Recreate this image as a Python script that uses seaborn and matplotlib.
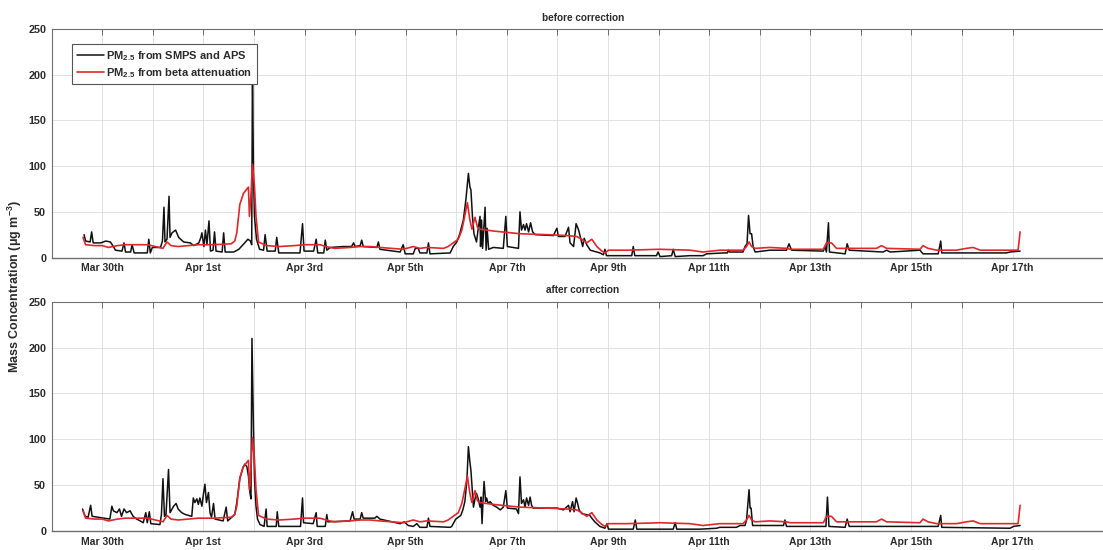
import matplotlib
matplotlib.use("Agg")
import matplotlib.pyplot as plt
import seaborn as sns
import pandas as pd
import numpy as np

# ---------------- data (time in days since Mar 29 00:00) ----------------
tick_days = list(range(1, 20))
tick_labels = ["Mar 30th", "", "Apr 1st", "", "Apr 3rd", "", "Apr 5th", "", "Apr 7th", "",
               "Apr 9th", "", "Apr 11th", "", "Apr 13th", "", "Apr 15th", "", "Apr 17th"]
yticks = [0, 50, 100, 150, 200, 250]

# PM2.5 from SMPS and APS, before correction
before_t = [0.64, 0.67, 0.76, 0.79, 0.82, 0.97, 1.07, 1.16, 1.22, 1.26, 1.39, 1.43, 1.46, 1.56, 1.59,
            1.63, 1.89, 1.92, 1.95, 1.99, 2.15, 2.19, 2.22, 2.24, 2.28, 2.32, 2.34, 2.38, 2.45, 2.51,
            2.61, 2.74, 2.81, 2.91, 2.95, 2.97, 3.01, 3.04, 3.07, 3.11, 3.14, 3.19, 3.22, 3.25, 3.37,
            3.40, 3.43, 3.60, 3.70, 3.80, 3.88, 3.93, 3.955, 3.97, 3.99, 4.01, 4.05, 4.11, 4.19, 4.22,
            4.26, 4.42, 4.45, 4.49, 4.91, 4.96, 4.99, 5.18, 5.23, 5.26, 5.38, 5.41, 5.44, 5.51, 5.77,
            5.93, 5.97, 6.00, 6.10, 6.13, 6.16, 6.43, 6.46, 6.49, 6.89, 6.95, 6.99, 7.15, 7.19, 7.25,
            7.28, 7.42, 7.45, 7.48, 7.88, 7.94, 8.01, 8.07, 8.14, 8.19, 8.24, 8.27, 8.29, 8.32, 8.35,
            8.40, 8.44, 8.47, 8.48, 8.50, 8.52, 8.55, 8.57, 8.59, 8.61, 8.64, 8.73, 8.93, 8.98, 9.01,
            9.23, 9.26, 9.29, 9.33, 9.36, 9.39, 9.43, 9.47, 9.51, 9.56, 9.92, 9.99, 10.02, 10.15, 10.22,
            10.25, 10.32, 10.37, 10.42, 10.46, 10.50, 10.53, 10.58, 10.65, 10.84, 10.91, 10.94, 10.97,
            11.47, 11.50, 11.53, 11.96, 11.99, 12.03, 12.26, 12.29, 12.33, 12.62, 12.88, 12.95, 13.28,
            13.36, 13.38, 13.40, 13.67, 13.71, 13.75, 13.78, 13.81, 13.84, 13.87, 13.91, 14.20, 14.53,
            14.58, 14.63, 15.26, 15.29, 15.32, 15.36, 15.38, 15.69, 15.73, 15.77, 16.44, 16.51, 16.58,
            17.17, 17.23, 17.53, 17.58, 17.60, 18.88, 18.95, 19.15]
before_v = [25, 18, 17, 28, 16, 16, 18, 17, 12, 8, 7, 16, 6, 6, 14,
            5, 5, 20, 5, 11, 11, 18, 55, 17, 20, 67, 22, 27, 30, 22,
            17, 16, 13, 16, 22, 27, 12, 30, 14, 40, 7, 8, 28, 7, 6,
            27, 6, 6, 9, 15, 20, 18, 14, 210, 90, 45, 20, 9, 8, 25,
            7, 7, 22, 5, 5, 37, 7, 7, 20, 5, 5, 19, 8, 11, 12,
            12, 16, 12, 13, 19, 12, 11, 17, 9, 6, 14, 4, 4, 10, 10,
            5, 5, 16, 4, 5, 12, 17, 26, 41, 63, 92, 77, 74, 45, 26,
            17, 34, 45, 12, 41, 10, 37, 55, 8, 32, 9, 11, 10, 45, 12,
            10, 50, 30, 36, 30, 37, 28, 38, 28, 25, 24, 32, 23, 23, 33,
            16, 12, 37, 30, 21, 12, 21, 14, 8, 5, 3, 9, 2,
            2, 12, 2, 2, 6, 1, 2, 9, 1, 2, 2, 4, 5,
            5, 8, 6, 6, 12, 15, 46, 26, 26, 12, 6, 8, 8,
            15, 8, 7, 12, 6, 38, 6, 4, 15, 8, 6, 8, 6,
            8, 4, 4, 18, 5, 5, 6, 7]

# PM2.5 from SMPS and APS, after correction
after_t = [0.61, 0.66, 0.72, 0.77, 0.80, 1.15, 1.19, 1.22, 1.29, 1.34, 1.38, 1.43, 1.48, 1.55, 1.61,
           1.68, 1.75, 1.81, 1.86, 1.89, 1.93, 1.96, 2.14, 2.17, 2.20, 2.23, 2.26, 2.31, 2.34, 2.41,
           2.46, 2.50, 2.57, 2.64, 2.77, 2.80, 2.83, 2.87, 2.90, 2.93, 2.97, 3.00, 3.03, 3.06, 3.10,
           3.13, 3.16, 3.20, 3.23, 3.39, 3.45, 3.48, 3.56, 3.62, 3.66, 3.72, 3.78, 3.82, 3.86, 3.89,
           3.92, 3.94, 3.96, 3.99, 4.01, 4.04, 4.07, 4.12, 4.20, 4.24, 4.26, 4.44, 4.46, 4.49, 4.92,
           4.96, 4.98, 5.17, 5.23, 5.25, 5.41, 5.44, 5.46, 5.90, 5.95, 5.98, 6.10, 6.13, 6.16, 6.39,
           6.43, 6.49, 6.89, 6.97, 7.05, 7.15, 7.22, 7.28, 7.42, 7.45, 7.48, 7.88, 7.91, 7.94, 7.99,
           8.04, 8.09, 8.13, 8.17, 8.21, 8.24, 8.27, 8.29, 8.32, 8.34, 8.37, 8.40, 8.44, 8.47, 8.49,
           8.51, 8.53, 8.55, 8.58, 8.60, 8.63, 8.67, 8.73, 8.80, 8.87, 8.93, 8.98, 9.01, 9.19, 9.23,
           9.26, 9.29, 9.33, 9.36, 9.39, 9.43, 9.46, 9.49, 9.52, 9.99, 10.12, 10.22, 10.25, 10.30, 10.33,
           10.37, 10.40, 10.43, 10.48, 10.64, 10.68, 10.74, 10.84, 10.94, 10.98, 11.01, 11.50, 11.54,
           11.57, 12.29, 12.33, 12.36, 12.82, 13.15, 13.21, 13.54, 13.61, 13.71, 13.74, 13.79, 13.81,
           13.83, 13.86, 14.47, 14.50, 14.53, 15.31, 15.34, 15.37, 15.69, 15.73, 15.77, 17.53, 17.58,
           17.60, 18.95, 19.02, 19.15]
after_v = [24, 16, 15, 28, 16, 13, 27, 22, 20, 24, 16, 24, 20, 22, 16,
           13, 11, 9, 20, 9, 21, 8, 7, 18, 57, 16, 18, 67, 20, 27,
           30, 24, 20, 18, 16, 36, 31, 35, 29, 36, 27, 40, 51, 31, 42,
           20, 15, 30, 13, 11, 26, 11, 15, 18, 31, 57, 69, 73, 70, 60,
           42, 35, 210, 111, 57, 27, 13, 7, 5, 24, 5, 5, 21, 5, 5,
           36, 9, 8, 20, 5, 5, 18, 10, 11, 21, 13, 13, 20, 14, 14,
           16, 13, 8, 10, 6, 5, 8, 4, 4, 14, 5, 4, 5, 8, 13,
           15, 17, 23, 32, 55, 92, 75, 66, 43, 26, 35, 41, 34, 26, 37,
           8, 34, 54, 32, 36, 30, 32, 28, 26, 23, 26, 44, 25, 24, 19,
           59, 30, 34, 26, 36, 28, 37, 28, 25, 25, 23, 28, 21, 32, 21,
           36, 30, 23, 19, 17, 14, 10, 5, 3, 8, 2, 2, 12,
           2, 2, 9, 2, 2, 3, 4, 4, 6, 6, 12, 45, 25,
           25, 6, 6, 12, 5, 5, 37, 5, 4, 13, 5, 5, 17,
           4, 3, 5, 6]

# PM2.5 from beta attenuation (same in both panels)
beta_t = [0.62, 0.67, 0.85, 1.00, 1.12, 1.30, 1.45, 1.70, 1.90, 2.05, 2.20, 2.28, 2.36, 2.50, 2.70,
          2.90, 3.20, 3.55, 3.62, 3.66, 3.72, 3.79, 3.86, 3.89, 3.91, 3.94, 3.97, 4.01, 4.04, 4.09,
          4.25, 4.50, 4.80, 5.00, 5.30, 5.50, 5.60, 5.90, 6.10, 6.30, 6.49, 6.95, 7.15, 7.28, 7.42,
          7.75, 7.84, 7.94, 8.04, 8.11, 8.17, 8.22, 8.27, 8.31, 8.37, 8.42, 8.47, 8.73, 9.26, 9.79,
          10.18, 10.38, 10.45, 10.58, 10.68, 10.78, 10.88, 10.94, 11.01, 11.37, 12.03, 12.62, 12.88,
          13.21, 13.67, 13.74, 13.79, 13.84, 13.91, 14.20, 14.53, 14.60, 15.26, 15.32, 15.42, 15.52,
          16.31, 16.41, 16.51, 17.17, 17.23, 17.33, 17.50, 17.89, 18.09, 18.22, 18.36, 19.11, 19.15]
beta_v = [22, 14, 13, 13, 11, 13, 14, 14, 14, 12, 10, 17, 13, 12, 13,
          14, 14, 15, 18, 27, 58, 70, 75, 77, 45, 68, 102, 78, 45, 17,
          13, 12, 13, 14, 14, 11, 10, 11, 12, 12, 11, 9, 12, 10, 11,
          10, 12, 16, 20, 30, 46, 60, 41, 31, 44, 33, 31, 29, 26, 25,
          24, 23, 21, 16, 20, 12, 7, 5, 8, 8, 9, 8, 6,
          8, 8, 12, 17, 12, 10, 11, 10, 9, 9, 16, 16, 10,
          10, 13, 10, 9, 13, 10, 8, 8, 10, 11, 8, 8, 28]

series_names = ["PM$_{\\mathbf{2.5}}$ from SMPS and APS", "PM$_{\\mathbf{2.5}}$ from beta attenuation"]
panel_titles = ["before correction", "after correction"]

# ---------------- plotting ----------------
sns.set_style("white")
plt.rcParams["font.family"] = ["Liberation Sans", "DejaVu Sans"]
plt.rcParams["mathtext.fontset"] = "custom"
plt.rcParams["mathtext.rm"] = "Liberation Sans:bold"
plt.rcParams["mathtext.bf"] = "Liberation Sans:bold"
plt.rcParams["mathtext.it"] = "Liberation Sans:bold:italic"

W, H = 1103, 550
fig = plt.figure(figsize=(W / 100, H / 100), dpi=100)

px_per_day = 50.57
x0 = 51.7
xmax_day = 21.0
ax_w = xmax_day * px_per_day / W

ax_top = fig.add_axes([x0 / W, 1 - 257.5 / H, ax_w, 228.5 / H])
ax_bot = fig.add_axes([x0 / W, 1 - 531.0 / H, ax_w, 229.3 / H])

black = "#111111"
red = "#e3262a"
spine_col = "#6e6e6e"
text_col = "#2b2b2b"

panels = [(ax_top, before_t, before_v), (ax_bot, after_t, after_v)]
for i, (ax, bt, bv) in enumerate(panels):
    df_b = pd.DataFrame({"day": bt, "val": bv})
    df_r = pd.DataFrame({"day": beta_t, "val": beta_v})
    sns.lineplot(data=df_b, x="day", y="val", ax=ax, color=black, lw=1.1,
                 estimator=None, sort=False, label=series_names[0], zorder=3)
    sns.lineplot(data=df_r, x="day", y="val", ax=ax, color=red, lw=1.2,
                 estimator=None, sort=False, label=series_names[1], zorder=4)
    ax.set_xlim(0, xmax_day)
    ax.set_ylim(0, 250)
    ax.set_xticks(tick_days)
    ax.set_xticklabels(tick_labels, fontsize=7.5, fontweight="bold", color=text_col)
    ax.set_yticks(yticks)
    ax.set_yticklabels([str(v) for v in yticks], fontsize=7.8, fontweight="bold", color=text_col)
    ax.tick_params(direction="in", length=4, width=0.7, color=spine_col,
                   top=True, right=True, pad=4)
    ax.grid(True, color="#dcdcdc", lw=0.6)
    ax.set_axisbelow(True)
    for s in ax.spines.values():
        s.set_color(spine_col)
        s.set_linewidth(0.8)
    ax.spines["bottom"].set_linewidth(1.0)
    ax.set_xlabel("")
    ax.set_ylabel("")
    ax.set_title(panel_titles[i], fontsize=7.2, fontweight="bold", color=text_col, pad=6)
    if i == 0:
        leg = ax.legend(loc="upper left", bbox_to_anchor=(20.8 / 1062, 1 - 15.5 / 228.5),
                        fontsize=8, frameon=True, fancybox=False, framealpha=1,
                        handlelength=2.4, handletextpad=0.25, borderpad=0.4,
                        labelspacing=0.3, borderaxespad=0)
        leg.get_frame().set_edgecolor("#555555")
        leg.get_frame().set_linewidth(0.8)
        for t in leg.get_texts():
            t.set_fontweight("bold")
            t.set_color(text_col)
    else:
        ax.get_legend().remove()

fig.text(15 / W, 0.48, "Mass Concentration ($\\mathbf{\\mu}$g m$^{\\mathbf{-3}}$)", rotation=90,
         ha="center", va="center", fontsize=9, fontweight="bold", color=text_col)

fig.savefig("out.png", dpi=100)
